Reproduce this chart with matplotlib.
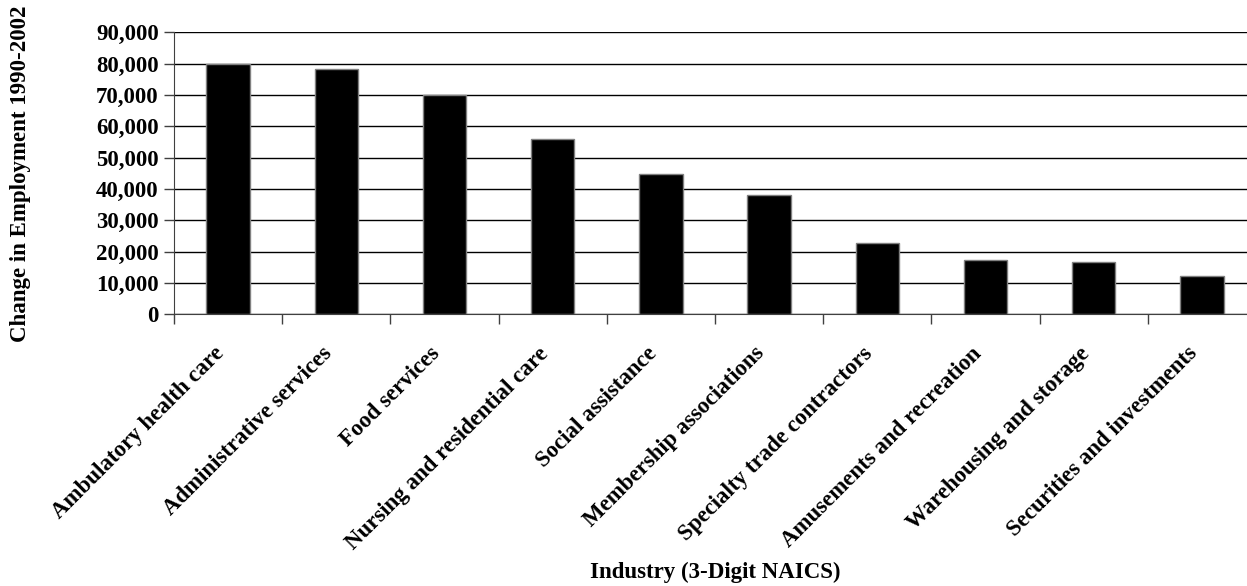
import matplotlib.pyplot as plt
from matplotlib.ticker import FuncFormatter, FixedLocator

# employment growth by industry, 1990-2002
industries = [
    "Ambulatory health care",
    "Administrative services",
    "Food services",
    "Nursing and residential care",
    "Social assistance",
    "Membership associations",
    "Specialty trade contractors",
    "Amusements and recreation",
    "Warehousing and storage",
    "Securities and investments",
]
change = [80000, 78300, 70100, 56000, 44800, 38000, 22900, 17200, 16600, 12100]
y_ticks = [0, 10000, 20000, 30000, 40000, 50000, 60000, 70000, 80000, 90000]

plt.rcParams["font.family"] = ["Liberation Serif", "DejaVu Serif"]
plt.rcParams["font.weight"] = "bold"

fig = plt.figure(figsize=(12.47, 5.86), dpi=100)
# axes runs a little past the right edge of the figure
ax = fig.add_axes([174 / 1247, 271.7 / 586, 1082 / 1247, 282 / 586])

x = list(range(len(industries)))
ax.bar(x, change, width=0.4, color="black", edgecolor="#808080", linewidth=1, zorder=3)

ax.set_xlim(-0.5, len(industries) - 0.5)
ax.set_ylim(0, 90000)
ax.set_yticks(y_ticks)
ax.yaxis.set_major_formatter(FuncFormatter(lambda v, p: f"{int(v):,}"))
ax.grid(axis="y", color="black", linewidth=1, zorder=0)

# category labels sit a touch left of the bar centres
ax.set_xticks([i - 0.07 for i in x])
ax.set_xticklabels(industries, rotation=45, ha="right", va="center",
                   rotation_mode="anchor", fontsize=16.5, fontweight="bold")
ax.xaxis.set_minor_locator(FixedLocator([i - 0.5 for i in range(len(industries) + 1)]))
ax.tick_params(axis="x", which="major", length=0, pad=26)
ax.tick_params(axis="x", which="minor", length=7, width=1, color="#404040")
ax.tick_params(axis="y", length=7, width=1, color="#404040", labelsize=16.5, pad=4)
for lab in ax.get_yticklabels():
    lab.set_fontweight("bold")

for side in ["top", "right"]:
    ax.spines[side].set_visible(False)
ax.spines["left"].set_color("#404040")
ax.spines["bottom"].set_color("#404040")
ax.spines["bottom"].set_zorder(4)

ax.set_xlabel("Industry (3-Digit NAICS)", fontsize=16.5, fontweight="bold", va="center")
ax.xaxis.set_label_coords(541 / 1082, (314.3 - 572) / 282)
ax.set_ylabel("Change in Employment 1990-2002", fontsize=16.5, fontweight="bold", va="center")
ax.yaxis.set_label_coords((20 - 174) / 1082, 0.5)

fig.savefig("out.png", dpi=100)
